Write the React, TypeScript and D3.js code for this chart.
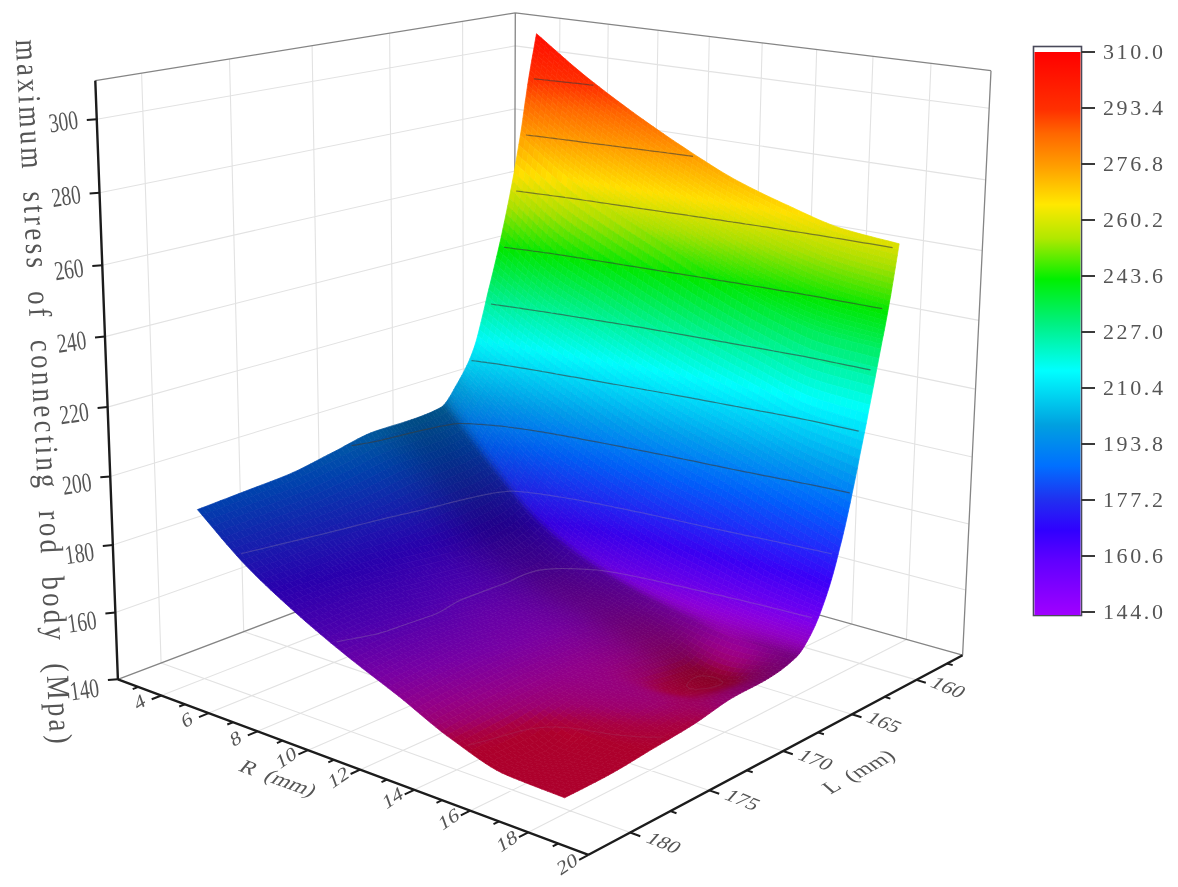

import React from 'react';
import * as d3 from 'd3';

// ---- data ----
const rValues=[4,6,8,10,12,14,16,18];
const lValues=[160,160.5,161,162,163,164,165,166,168,170,172.5,175,177.5,180];
const zL160=[309.5,299,290,282,275,270,266,264.5];
const zL1605=[296,285,276,268,261,255,251,249];
const zL161=[279.5,269,261,254,247,241,237,236];
const zL162=[254,243,236,229,223,218,213,211];
const zL163=[234,225,218,211,205,200,194,188];
const zL164=[216,207,199,192,186,181,175,171];
const zL165=[207,194,183,175,169,165,162,160.5];
const zL166=[201,186,173,165,160,157,155,155];
const zL168=[199.5,184,169,161,157,152,146.5,152];
const zL170=[199,183,168,162,158,153,147.5,151];
const zL1725=[196,181,169,162,158,153,151,148];
const zL175=[193,180,170,163,158,152,148,146];
const zL1775=[191.5,179,170,163,157,150,143,144];
const zL180=[190,178,169,161.5,155,148,143.5,143];
const surfaceRows=[zL160,zL1605,zL161,zL162,zL163,zL164,zL165,zL166,zL168,zL170,zL1725,zL175,zL1775,zL180];
const rMajor=[4,6,8,10,12,14,16,18,20];
const rMinor=[3,5,7,9,11,13,15,17,19];
const lMajor=[160,165,170,175,180];
const lMinor=[157.5,162.5,167.5,172.5,177.5];
const zMajor=[160,180,200,220,240,260,280,300];
const contourLevels=[293.4,276.8,260.2,243.6,227,210.4,193.8,177.2,160.6,144];
const barLabels=['310.0','293.4','276.8','260.2','243.6','227.0','210.4','193.8','177.2','160.6','144.0'];
const barStops:[number,string][]=[[310,'#ff0000'],[293,'#ff3000'],[286,'#ff6600'],[276,'#ffa000'],[265,'#ffe800'],[255,'#b0e800'],[243,'#00f000'],[230,'#00f080'],[216,'#00ffff'],[200,'#00a0e0'],[188,'#0070ff'],[178,'#2030f0'],[169,'#3000ff'],[160,'#6000ff'],[144,'#a000ff']];
const surfStops:[number,string][]=[[310,'#ff0000'],[293,'#ff3000'],[286,'#ff6600'],[276,'#ffa000'],[265,'#ffe000'],[255,'#a8e000'],[243,'#00e800'],[230,'#00f080'],[216,'#00ffff'],[200,'#00a0f0'],[188,'#0060ff'],[170,'#3c00ff'],[162,'#7000ff'],[155,'#b000f0'],[150,'#d800c8'],[147,'#e800a0'],[145,'#f80060'],[143,'#ff0040']];
const zPlotOffset=3;

// ---- projection ----
const Rd=[2.1,20],Ld=[156.2,182.5],Zd=[140,310.4];
const calibWorld=[[Rd[0],Ld[1],140,122,680],[Rd[1],Ld[1],140,587,853],[Rd[1],Ld[0],140,962,654],[Rd[0],Ld[0],140,512,530],[Rd[0],Ld[1],Zd[1],97.5,79],[Rd[0],Ld[0],Zd[1],516,11],[Rd[1],Ld[0],Zd[1],990,70],
 [4,Ld[0],Zd[1],563,21],[10,Ld[0],Zd[1],711,38],[18,Ld[0],Zd[1],930,63],[16,Ld[0],140,853,622],[18,Ld[0],140,907,637],
 [Rd[0],180,Zd[1],135,73],[Rd[0],160,Zd[1],460,22],[Rd[0],180,140,157,660],[Rd[0],175,140,240,632],
 [4,Ld[1],140,165,697],[12,Ld[1],140,362,770],[Rd[1],160,140,918,682],[Rd[1],170,140,783,753],[Rd[1],180,140,628,835],[Rd[0],Ld[1],300,99.3,118],[Rd[0],Ld[1],220,109.5,408]];
const sR=d3.scaleLinear().domain(Rd).range([0,1]),sL=d3.scaleLinear().domain(Ld).range([0,1]),sZ=d3.scaleLinear().domain(Zd).range([0,1]);
function solve(A:number[][],b:number[]){const n=b.length;const M=A.map((r,i)=>[...r,b[i]]);for(let i=0;i<n;i++){let p=i;for(let k=i;k<n;k++)if(Math.abs(M[k][i])>Math.abs(M[p][i]))p=k;[M[i],M[p]]=[M[p],M[i]];for(let k=0;k<n;k++)if(k!==i){const f=M[k][i]/M[i][i];for(let j=i;j<=n;j++)M[k][j]-=f*M[i][j];}}return M.map((r,i)=>r[n]/r[i]);}
const rows:number[][]=[],rhs:number[]=[];
calibWorld.forEach(([r,l,zz,x,y])=>{const u=sR(r),v=sL(l),w=sZ(zz);rows.push([u,v,w,1,0,0,0,0,-x*u,-x*v,-x*w]);rhs.push(x);rows.push([0,0,0,0,u,v,w,1,-y*u,-y*v,-y*w]);rhs.push(y);});
const ATA=Array.from({length:11},(_,i)=>Array.from({length:11},(_,j)=>rows.reduce((s,r)=>s+r[i]*r[j],0)));
const ATb=Array.from({length:11},(_,i)=>rows.reduce((s,r,k)=>s+r[i]*rhs[k],0));
const p=solve(ATA,ATb);
function pr(R:number,L:number,Z:number):[number,number]{const u=sR(R),v=sL(L),w=sZ(Z);const d=p[8]*u+p[9]*v+p[10]*w+1;return [(p[0]*u+p[1]*v+p[2]*w+p[3])/d,(p[4]*u+p[5]*v+p[6]*w+p[7])/d];}
const fmt=(q:[number,number])=>q[0].toFixed(1)+','+q[1].toFixed(1);
const seg=(a:[number,number],b:[number,number])=>`M${fmt(a)}L${fmt(b)}`;

// sheared footprint of the surface
const edgeAt180=[3.9,17.8],edgeAt160=[5.2,18.8];
function plotR(R:number,L:number){const s=(R-4)/14,t=(180-L)/20;const a=edgeAt180[0]+(edgeAt180[1]-edgeAt180[0])*s,b=edgeAt160[0]+(edgeAt160[1]-edgeAt160[0])*s;return a+(b-a)*t;}

// monotone cubic through table points
function pchip(xs:number[],ys:number[]){const n=xs.length,h=d3.pairs(xs,(a,b)=>b-a),dl=h.map((d,i)=>(ys[i+1]-ys[i])/d),m=new Array(n).fill(0);m[0]=dl[0];m[n-1]=dl[n-2];for(let i=1;i<n-1;i++){if(dl[i-1]*dl[i]<=0)m[i]=0;else{const w1=2*h[i]+h[i-1],w2=h[i]+2*h[i-1];m[i]=(w1+w2)/(w1/dl[i-1]+w2/dl[i]);}}
 return (x:number)=>{let i=Math.min(n-2,Math.max(0,d3.bisectRight(xs,x)-1));const t=(x-xs[i])/h[i],t2=t*t,t3=t2*t;return (2*t3-3*t2+1)*ys[i]+(t3-2*t2+t)*h[i]*m[i]+(-2*t3+3*t2)*ys[i+1]+(t3-t2)*h[i]*m[i+1];};}
const SUB=10;
const denseL:number[]=[];d3.pairs(lValues).forEach(([a,b])=>{for(let k=0;k<SUB;k++)denseL.push(a+(b-a)*k/SUB);});denseL.push(180);
const denseR:number[]=[];d3.pairs(rValues).forEach(([a,b])=>{for(let k=0;k<SUB;k++)denseR.push(a+(b-a)*k/SUB);});denseR.push(18);
const colFns=rValues.map((_,c)=>pchip(lValues,surfaceRows.map(r=>r[c])));
const grid=denseL.map(L=>{const f=pchip(rValues,colFns.map(g=>g(L)));return denseR.map(R=>f(R));});
const surfColor=d3.scaleLinear<string>().domain(surfStops.map(d=>d[0])).range(surfStops.map(d=>d[1])).clamp(true);
const n=denseR.length,m=denseL.length;
const quads:{d:string,c:string}[]=[];
for(let j=0;j<m-1;j++)for(let i=0;i<n-1;i++){
 const L0=denseL[j],L1=denseL[j+1],R0=denseR[i],R1=denseR[i+1];
 const z=[grid[j][i],grid[j][i+1],grid[j+1][i+1],grid[j+1][i]];
 const a=pr(plotR(R0,L0),L0,z[0]),b=pr(plotR(R1,L0),L0,z[1]),c=pr(plotR(R1,L1),L1,z[2]),e=pr(plotR(R0,L1),L1,z[3]);
 const zm=(z[0]+z[1]+z[2]+z[3])/4;
 const slope=Math.abs((z[3]+z[2]-z[0]-z[1])/2/(L1-L0));
 const t=Math.min(1,Math.max(0,(slope-2)/7));
 const Lm=(L0+L1)/2;
 const sh=(0.68+0.32*t*t*(3-2*t))*(1-0.2*Math.exp(-(((Lm-167.5)/2.6)**2)));
 const col=d3.rgb(surfColor(zm-zPlotOffset));
 const cs=d3.rgb(col.r*sh,col.g*sh,col.b*sh).formatHex();
 quads.push({d:`M${fmt(a)}L${fmt(b)}L${fmt(c)}L${fmt(e)}Z`,c:cs});
}
const flat:number[]=[];grid.forEach(r=>r.forEach(v=>flat.push(v)));
const contourPaths=contourLevels.map(level=>{
 const th=level+zPlotOffset;
 const cs=d3.contours().size([n,m]).thresholds([th])(flat)[0];
 let d='';
 const mapPt=(q:number[]):[number,number]=>{const i=Math.max(0,Math.min(n-1,q[0]-0.5)),j=Math.max(0,Math.min(m-1,q[1]-0.5));const i0=Math.floor(i),j0=Math.floor(j);const R=denseR[i0]+(denseR[Math.min(n-1,i0+1)]-denseR[i0])*(i-i0),L=denseL[j0]+(denseL[Math.min(m-1,j0+1)]-denseL[j0])*(j-j0);return pr(plotR(R,L),L,th);};
 const border=(q:number[])=>q[0]<0.7||q[0]>n-0.7||q[1]<0.7||q[1]>m-0.7;
 cs.coordinates.forEach(poly=>poly.forEach(ring=>{let pen=false;ring.forEach(q=>{if(border(q)){pen=false;return;}d+=(pen?'L':'M')+fmt(mapPt(q));pen=true;});}));
 return {level,d};
});

const gridPaths=[
 ...lMajor.map(l=>seg(pr(Rd[0],l,140),pr(Rd[1],l,140))),
 ...rMajor.slice(0,-1).map(r=>seg(pr(r,Ld[0],140),pr(r,Ld[1],140))),
 ...lMajor.map(l=>seg(pr(Rd[0],l,140),pr(Rd[0],l,Zd[1]))),
 ...zMajor.map(z=>seg(pr(Rd[0],Ld[1],z),pr(Rd[0],Ld[0],z))),
 ...rMajor.slice(0,-1).map(r=>seg(pr(r,Ld[0],140),pr(r,Ld[0],Zd[1]))),
 ...zMajor.map(z=>seg(pr(Rd[0],Ld[0],z),pr(Rd[1],Ld[0],z))),
].join('');
const A=pr(Rd[0],Ld[1],140),F=pr(Rd[1],Ld[1],140),B=pr(Rd[1],Ld[0],140),C=pr(Rd[0],Ld[0],140),At=pr(Rd[0],Ld[1],Zd[1]),Ct=pr(Rd[0],Ld[0],Zd[1]),Bt=pr(Rd[1],Ld[0],Zd[1]);
const TXT='#555';
const serif='"Liberation Serif",serif';
const barScale=d3.scaleLinear().domain([144,310]).range([612,52]);
const barTicks=barLabels.map(s=>+s);
const contourOpacity=(l:number)=>l>185?0.6:l>150?0.3:0.12;

export default function App(){
 return <svg width={1178} height={887} style={{position:'absolute',left:0,top:0,background:'#fff',filter:'blur(0.6px)'}}>
  <path d={gridPaths} fill="none" stroke="#e2e2e2" strokeWidth={1.1}/>
  <path d={seg(A,C)+seg(C,B)+seg(At,Ct)+seg(Ct,Bt)+seg(Bt,B)+seg(Ct,C)} fill="none" stroke="#858585" strokeWidth={1.3}/>
  {quads.map((q,i)=><path key={i} d={q.d} fill={q.c} stroke={q.c} strokeWidth={0.7}/>)}
  {contourPaths.map(c=><path key={c.level} d={c.d} fill="none" stroke={c.level>185?'#3a3a3a':'#9a8aa8'} strokeOpacity={contourOpacity(c.level)} strokeWidth={1.2}/>)}
  {/* axes */}
  <path d={seg(A,F)+seg(F,B)+seg(A,At)} fill="none" stroke="#1c1c1c" strokeWidth={2.4}/>
  <path d={[...rMajor.map(r=>seg(pr(r,Ld[1],140),pr(r,Ld[1]+0.55,140))),...rMinor.map(r=>seg(pr(r,Ld[1],140),pr(r,Ld[1]+0.32,140))),
    ...lMajor.map(l=>seg(pr(Rd[1],l,140),pr(Rd[1]+0.33,l,140))),...lMinor.map(l=>seg(pr(Rd[1],l,140),pr(Rd[1]+0.2,l,140))),
    ...[140,...zMajor].map(z=>{const q=pr(Rd[0],Ld[1],z);return seg(q,[q[0]-10,q[1]+0.8]);})].join('')} fill="none" stroke="#1c1c1c" strokeWidth={2}/>
  {[140,...zMajor].map(z=>{const q=pr(Rd[0],Ld[1],z);return <text key={z} transform={`translate(${q[0]-33},${q[1]+5+(300-z)*0.05}) rotate(-8) scale(0.72,1)`} fontSize={27} fontFamily={serif} fill={TXT} textAnchor="middle" dominantBaseline="middle">{z}</text>;})}
  {rMajor.map(r=>{const q=pr(r,Ld[1]+1.2,140);return <text key={r} transform={`translate(${q[0]},${q[1]}) rotate(-34) skewX(-14) scale(1,0.85)`} fontSize={22} fontFamily={serif} fill={TXT} textAnchor="middle" dominantBaseline="middle">{r}</text>;})}
  {lMajor.map(l=>{const q=pr(Rd[1]+1.05,l,140);return <text key={l} transform={`translate(${q[0]},${q[1]}) rotate(22) skewX(-20) scale(1,0.85)`} fontSize={22} fontFamily={serif} fill={TXT} textAnchor="middle" dominantBaseline="middle">{l}</text>;})}
  <text transform="translate(277,780) rotate(20) skewX(-20) scale(1,0.85)" fontSize={23} fontFamily={serif} fill={TXT} textAnchor="middle" dominantBaseline="middle" xmlSpace="preserve">R  (mm)</text>
  <text transform="translate(860,773) rotate(-29) skewX(20) scale(1,0.85)" fontSize={23} fontFamily={serif} fill={TXT} textAnchor="middle" dominantBaseline="middle" xmlSpace="preserve">L  (mm)</text>
  <text transform="translate(33,392) rotate(87.2) scale(1,1.2)" fontSize={27} fontFamily={serif} fill={TXT} textAnchor="middle" textLength={705} lengthAdjust="spacing" xmlSpace="preserve">maximum  stress  of  connecting  rod  body  (Mpa)</text>
  {/* colour bar */}
  <defs><linearGradient id="bar" x1="0" y1="0" x2="0" y2="1">{barStops.map(s=><stop key={s[0]} offset={(barScale(s[0])-52)/560} stopColor={s[1]}/>)}</linearGradient></defs>
  <rect x={1033.5} y={46.5} width={48} height={569} fill="#fff" stroke="#4a4a5a" strokeWidth={1.6}/>
  <rect x={1034.5} y={52} width={46} height={563} fill="url(#bar)"/>
  <path d={barTicks.map(v=>`M1081,${barScale(v)}h14`).join('')} stroke="#3a3a3a" strokeWidth={1.8}/>
  {barLabels.map(s=><text key={s} x={1103} y={barScale(+s)+2} fontSize={22} letterSpacing={2.6} fontFamily={serif} fill={TXT} dominantBaseline="middle">{s}</text>)}
 </svg>;
}
